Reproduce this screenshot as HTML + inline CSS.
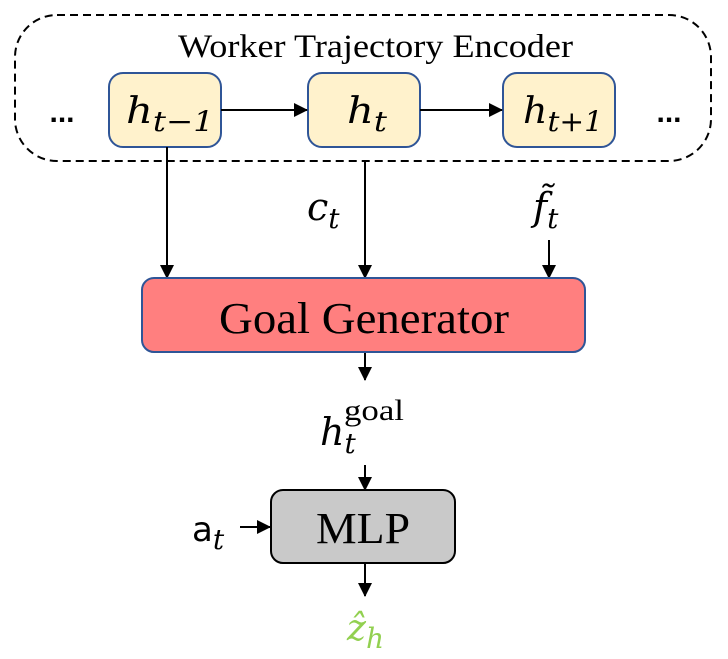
<!DOCTYPE html>
<html><head><meta charset="utf-8"><style>
body{margin:0;background:#fff;}
svg{display:block}
.m{font-family:"DejaVu Serif","Liberation Serif",serif;font-style:italic;}
</style></head><body>
<svg width="728" height="659" viewBox="0 0 728 659" xmlns="http://www.w3.org/2000/svg">
<defs><marker id="b" markerWidth="14" markerHeight="14" refX="13" refY="7" orient="auto" markerUnits="userSpaceOnUse"><path d="M0,0 L14,7 L0,14 z" fill="#000"/></marker></defs>
<rect x="15" y="15" width="696" height="146" rx="42" fill="none" stroke="#000" stroke-width="2" stroke-dasharray="8,5"/>
<text x="178" y="57" font-family="Liberation Serif,serif" font-size="33" textLength="395" lengthAdjust="spacingAndGlyphs">Worker Trajectory Encoder</text>
<text x="62" y="122" text-anchor="middle" font-family="Liberation Sans,sans-serif" font-size="30" font-weight="bold">...</text>
<text x="669" y="122" text-anchor="middle" font-family="Liberation Sans,sans-serif" font-size="30" font-weight="bold">...</text>
<g fill="#fff2cc" stroke="#2f5597" stroke-width="2">
<rect x="109" y="73" width="112" height="74" rx="14"/>
<rect x="308" y="73" width="112" height="74" rx="14"/>
<rect x="503" y="73" width="112" height="74" rx="14"/>
</g>
<text x="126" y="123" class="m" font-size="36" textLength="88" lengthAdjust="spacingAndGlyphs">h<tspan font-size="28" dy="8">t−1</tspan></text>
<text x="347" y="123" class="m" font-size="36" textLength="40" lengthAdjust="spacingAndGlyphs">h<tspan font-size="28" dy="8">t</tspan></text>
<text x="523" y="123" class="m" font-size="36" textLength="80" lengthAdjust="spacingAndGlyphs">h<tspan font-size="28" dy="8">t+1</tspan></text>
<g stroke="#000" stroke-width="2">
<line x1="221" y1="110" x2="307" y2="110" marker-end="url(#b)"/>
<line x1="420" y1="110" x2="502" y2="110" marker-end="url(#b)"/>
<line x1="167" y1="147" x2="167" y2="278" marker-end="url(#b)"/>
<line x1="365" y1="161" x2="365" y2="278" marker-end="url(#b)"/>
<line x1="549" y1="240" x2="549" y2="278" marker-end="url(#b)"/>
<line x1="365" y1="352" x2="365" y2="380" marker-end="url(#b)"/>
<line x1="365" y1="465" x2="365" y2="490" marker-end="url(#b)"/>
<line x1="240" y1="527" x2="270" y2="527" marker-end="url(#b)"/>
<line x1="365" y1="563" x2="365" y2="596" marker-end="url(#b)"/>
</g>
<text x="307" y="220" class="m" font-size="38">c<tspan font-size="28" dy="8">t</tspan></text>
<text x="533" y="220" class="m" font-size="38">f̃<tspan font-size="28" dy="8">t</tspan></text>
<rect x="142" y="278" width="443" height="74" rx="12" fill="#ff7f7f" stroke="#2f5597" stroke-width="2"/>
<text x="219" y="333" font-family="Liberation Serif,serif" font-size="44" textLength="290" lengthAdjust="spacingAndGlyphs">Goal Generator</text>
<text x="320" y="445" class="m" font-size="38">h<tspan font-size="28" dy="8">t</tspan></text>
<text x="344" y="420" font-family="Liberation Serif,serif" font-size="30" textLength="60" lengthAdjust="spacingAndGlyphs">goal</text>
<rect x="271" y="490" width="184" height="73" rx="12" fill="#c9c9c9" stroke="#000" stroke-width="2"/>
<text x="316" y="543" font-family="Liberation Serif,serif" font-size="44" textLength="94" lengthAdjust="spacingAndGlyphs">MLP</text>
<text x="192" y="541" font-family="DejaVu Sans,sans-serif" font-size="34">a<tspan class="m" font-size="28" dy="8">t</tspan></text>
<text x="347" y="640" class="m" font-size="36" fill="#92d050">ẑ<tspan font-size="28" dy="8">h</tspan></text>
</svg>
</body></html>
